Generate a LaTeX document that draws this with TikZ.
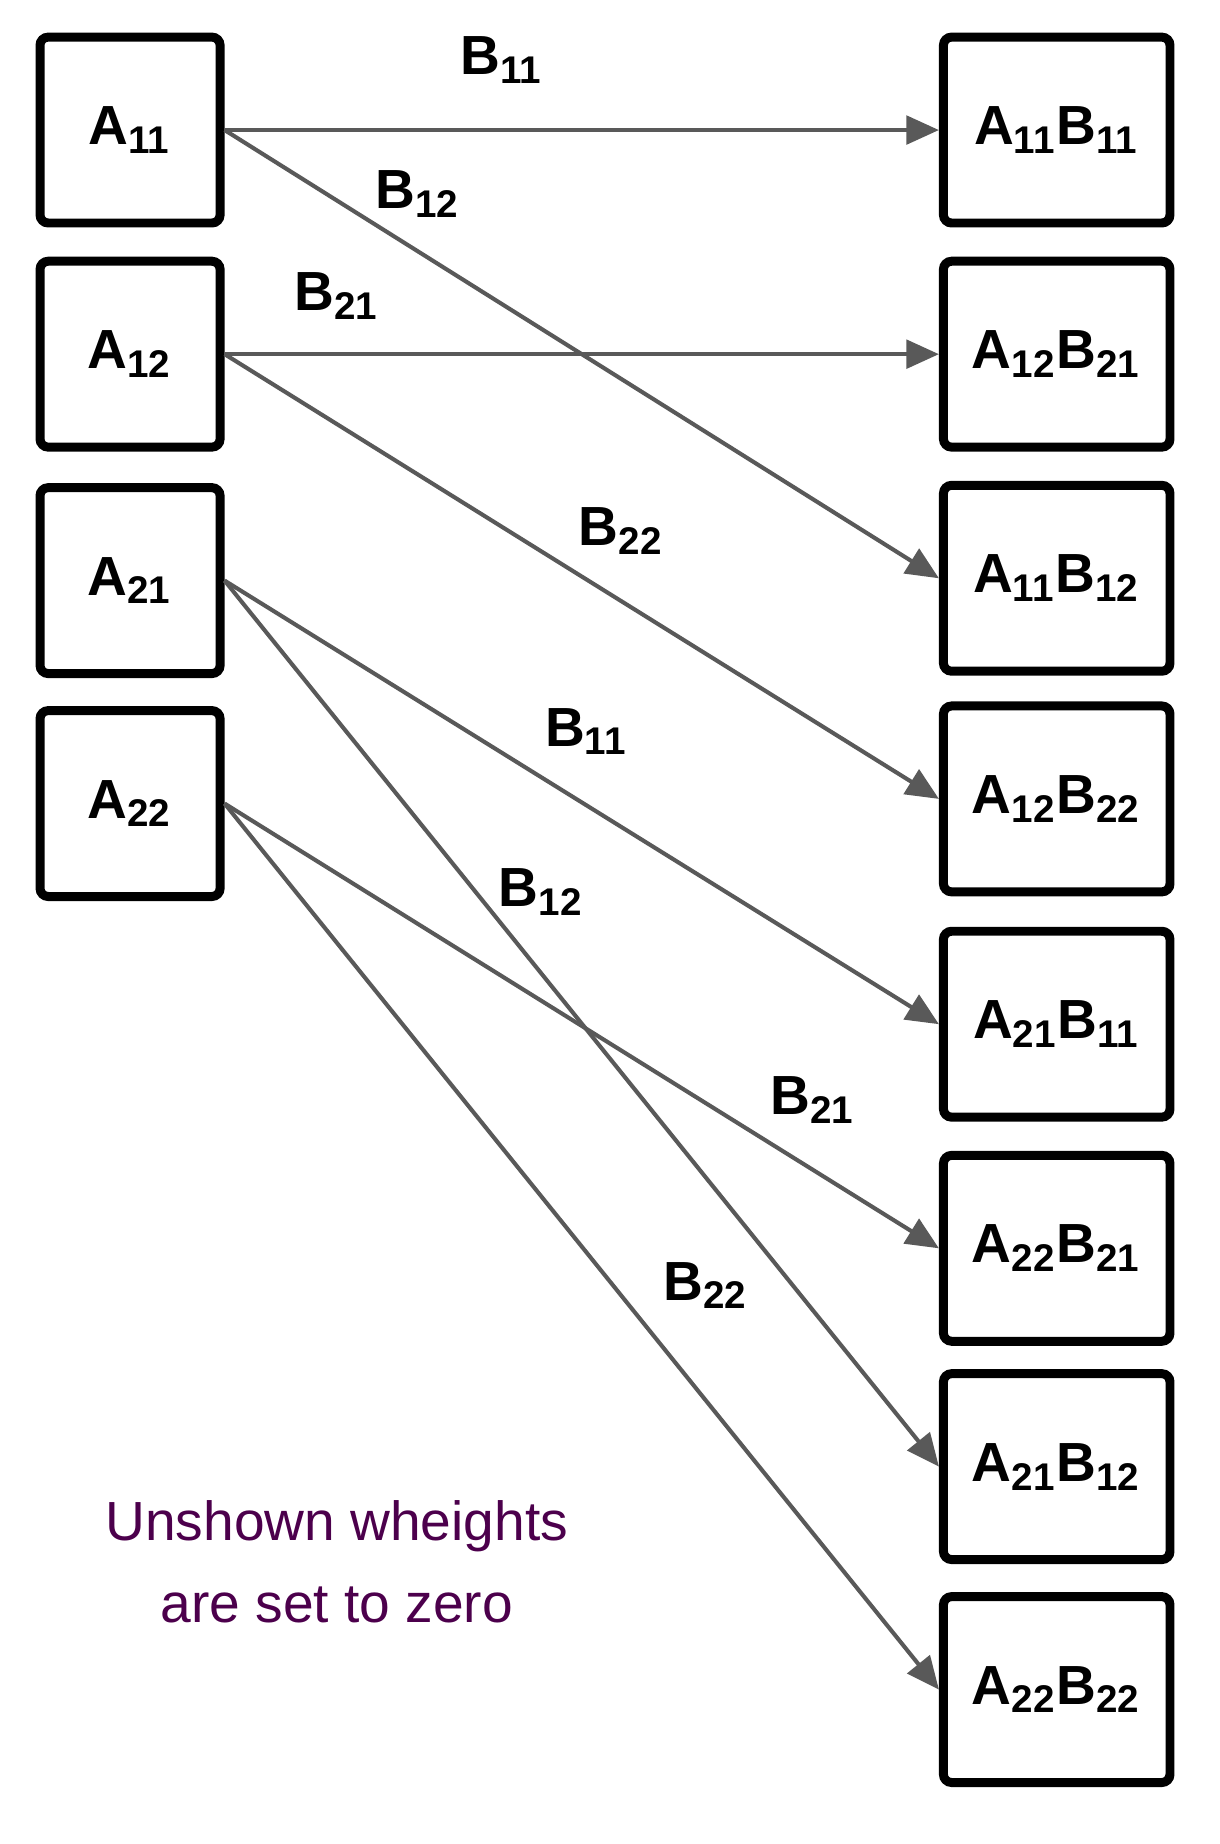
\documentclass[tikz,border=0pt]{standalone}
\usepackage{fontspec}
\setmainfont{Liberation Sans}
\usetikzlibrary{arrows.meta}
\newcommand\ssub[2]{#1\textsubscript{#2}}
\begin{document}
\begin{tikzpicture}[x=0.01cm,y=-0.01cm,
  box/.style={draw, line width=2.2pt, rounded corners=2pt, minimum height=1.6cm, inner sep=0pt, font=\fontsize{13.5}{16}\selectfont\bfseries},
  lbox/.style={box, minimum width=1.55cm},
  rbox/.style={box, minimum width=1.95cm},
  conn/.style={draw=black!65, line width=1pt, -{Triangle[length=8pt,width=7pt]}},
  wt/.style={font=\fontsize{13.5}{16}\selectfont\bfseries}]
\useasboundingbox (0,0) rectangle (1050,1588);
\node[lbox] (a11) at (112,112) {\ssub{A}{11}};
\node[lbox] (a12) at (112,305) {\ssub{A}{12}};
\node[lbox] (a21) at (112,500) {\ssub{A}{21}};
\node[lbox] (a22) at (112,692) {\ssub{A}{22}};
\node[rbox] (r1) at (910,112) {\ssub{A}{11}\ssub{B}{11}};
\node[rbox] (r2) at (910,305) {\ssub{A}{12}\ssub{B}{21}};
\node[rbox] (r3) at (910,498) {\ssub{A}{11}\ssub{B}{12}};
\node[rbox] (r4) at (910,688) {\ssub{A}{12}\ssub{B}{22}};
\node[rbox] (r5) at (910,882) {\ssub{A}{21}\ssub{B}{11}};
\node[rbox] (r6) at (910,1075) {\ssub{A}{22}\ssub{B}{21}};
\node[rbox] (r7) at (910,1263) {\ssub{A}{21}\ssub{B}{12}};
\node[rbox] (r8) at (910,1455) {\ssub{A}{22}\ssub{B}{22}};
\draw[conn] (a11.east) -- (r1.west);
\draw[conn] (a11.east) -- (r3.west);
\draw[conn] (a12.east) -- (r2.west);
\draw[conn] (a12.east) -- (r4.west);
\draw[conn] (a21.east) -- (r5.west);
\draw[conn] (a21.east) -- (r7.west);
\draw[conn] (a22.east) -- (r6.west);
\draw[conn] (a22.east) -- (r8.west);
\node[wt] (w1) at (432,52) {\ssub{B}{11}};
\node[wt] (w2) at (360,167) {\ssub{B}{12}};
\node[wt] (w3) at (290,255) {\ssub{B}{21}};
\node[wt] (w4) at (535,457) {\ssub{B}{22}};
\node[wt] (w5) at (505,630) {\ssub{B}{11}};
\node[wt] (w6) at (466,768) {\ssub{B}{12}};
\node[wt] (w7) at (700,947) {\ssub{B}{21}};
\node[wt] (w8) at (608,1107) {\ssub{B}{22}};
\node[align=center, text=violet!60!black, font=\fontsize{13.5}{20}\selectfont] (note) at (290,1345) {Unshown wheights\\are set to zero};
\end{tikzpicture}
\end{document}
